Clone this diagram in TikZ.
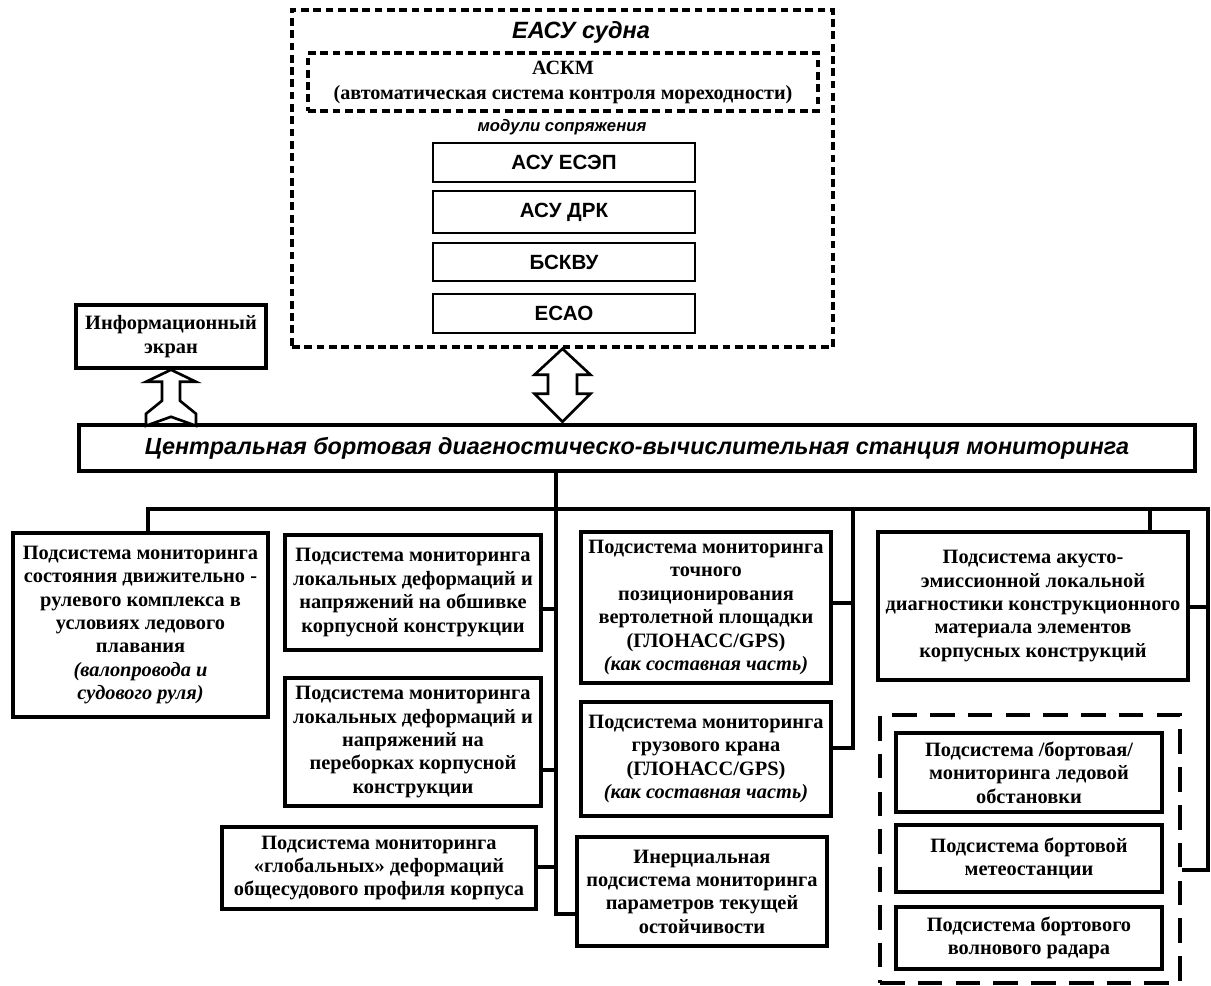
\documentclass[tikz,border=0pt]{standalone}
\usepackage{fontspec}
\setmainfont{Liberation Serif}
\setsansfont{Liberation Sans}
\usetikzlibrary{calc}

\newcommand{\bxfont}{\fontsize{11.6}{13.3}\selectfont\bfseries}
\newcommand{\mdfont}{\fontsize{11.7}{13}\selectfont\sffamily\bfseries}

\begin{document}
\begin{tikzpicture}[x=0.2mm,y=-0.2mm]
\tikzset{sub/.style={draw,line width=2pt,fill=white,align=center,inner sep=1pt,font=\bxfont},
 wh/.style 2 args={minimum width=#1*0.2mm,minimum height=#2*0.2mm},
 mod/.style={draw,line width=1.6pt,fill=white,font=\mdfont},
 dotbox/.style={draw,line width=2pt,dash pattern=on 4.4pt off 2.6pt},
 grpbox/.style={draw,line width=2pt,dash pattern=on 14pt off 7.5pt},
 ln/.style={line width=1.9pt},
 blk/.style={draw,line width=1.5pt,fill=white,line join=miter}}
\useasboundingbox (0,0) rectangle (1211,985);
\clip (0,0) rectangle (1211,985);
% ship system block
\node[dotbox,wh={541}{337}] (easu) at (562.5,178.5) {};
\node[font=\fontsize{13.4}{15}\selectfont\sffamily\bfseries\itshape] (easut) at (581,32) {ЕАСУ судна};
\node[dotbox,wh={510}{58},align=center,font=\fontsize{11.5}{14.2}\selectfont\bfseries] (askm) at (563,82) {АСКМ\\(автоматическая система контроля мореходности)};
\node[font=\fontsize{9.5}{11}\selectfont\sffamily\bfseries\itshape] (modl) at (562,127) {модули сопряжения};
\node[mod,wh={262}{39}] (m1) at (564,162.5) {АСУ ЕСЭП};
\node[mod,wh={262}{42}] (m2) at (564,212) {АСУ ДРК};
\node[mod,wh={262}{38}] (m3) at (564,262) {БСКВУ};
\node[mod,wh={262}{39}] (m4) at (564,313.5) {ЕСАО};
% station and screen
\node[sub,wh={190}{63}] (info) at (171,336.5) {Информационный\\экран};
\node[draw,line width=1.8pt,fill=white,wh={1116}{46},font=\fontsize{13.3}{15}\selectfont\sffamily\bfseries\itshape] (cen) at (637,448) {Центральная бортовая диагностическо-вычислительная станция мониторинга};
% subsystems
\node[sub,wh={255}{184}] (prop) at (140.5,625) {Подсистема мониторинга\\состояния движительно -\\рулевого комплекса в\\условиях ледового\\плавания\\\textit{(валопровода и}\\\textit{судового руля)}};
\node[sub,wh={256}{115}] (obsh) at (413,592.5) {Подсистема мониторинга\\локальных деформаций и\\напряжений на обшивке\\корпусной конструкции};
\node[sub,wh={256}{128}] (pereg) at (413,742) {Подсистема мониторинга\\локальных деформаций и\\напряжений на\\переборках корпусной\\конструкции};
\node[sub,wh={314}{82}] (glob) at (379,868) {Подсистема мониторинга\\«глобальных» деформаций\\общесудового профиля корпуса};
\node[sub,wh={250}{151}] (pos) at (706,607.5) {Подсистема мониторинга\\точного\\позиционирования\\вертолетной площадки\\(ГЛОНАСС/GPS)\\\textit{(как составная часть)}};
\node[sub,wh={250}{114}] (kran) at (706,759) {Подсистема мониторинга\\грузового крана\\(ГЛОНАСС/GPS)\\\textit{(как составная часть)}};
\node[sub,wh={250}{109}] (inert) at (702,891.5) {Инерциальная\\подсистема мониторинга\\параметров текущей\\остойчивости};
\node[sub,wh={310}{148}] (acou) at (1033,606) {Подсистема акусто-\\эмиссионной локальной\\диагностики конструкционного\\материала элементов\\корпусных конструкций};
\node[grpbox,wh={300}{268}] (grp) at (1030,849) {};
\node[sub,wh={266}{79}] (ice) at (1029,772.5) {Подсистема /бортовая/\\мониторинга ледовой\\обстановки};
\node[sub,wh={266}{67}] (meteo) at (1029,858.5) {Подсистема бортовой\\метеостанции};
\node[sub,wh={266}{62}] (radar) at (1029,938) {Подсистема бортового\\волнового радара};
% block arrows
\draw[blk,shift={(info.south)}] (0,0) -- (25,12) -- (9,12) -- (9,31) -- (25,44) -- (25,56) -- (0,47) -- (-25,56) -- (-25,44) -- (-9,31) -- (-9,12) -- (-25,12) -- cycle;
\draw[blk,shift={(easu.south)}] (0,0) -- (28,26) -- (14.5,26) -- (14.5,45) -- (28,45) -- (0,73) -- (-28,45) -- (-14.5,45) -- (-14.5,26) -- (-28,26) -- cycle;
% bus lines
\coordinate (b1) at (148,509);
\coordinate (b2) at (556,509);
\coordinate (b3) at (853,509);
\coordinate (b4) at (1150,509);
\coordinate (b5) at (1208,509);
\coordinate (b6) at (1208,870);
\coordinate (t1) at (556,914);
\coordinate (t2) at (853,748);
\draw[ln] (b1 |- prop.north) -- (b1) -- (b5) -- (b6) -- (grp.east |- b6);
\draw[ln] (cen.south -| b2) -- (t1) -- (inert.west |- t1);
\draw[ln] (obsh.east |- 0,609) -- (b2 |- 0,609);
\draw[ln] (pereg.east |- 0,770) -- (b2 |- 0,770);
\draw[ln] (glob.east |- 0,867) -- (b2 |- 0,867);
\draw[ln] (b3) -- (t2) -- (kran.east |- t2);
\draw[ln] (pos.east |- 0,603) -- (b3 |- 0,603);
\draw[ln] (b4) -- (acou.north -| b4);
\draw[ln] (acou.east |- 0,607) -- (b5 |- 0,607);
\end{tikzpicture}
\end{document}
